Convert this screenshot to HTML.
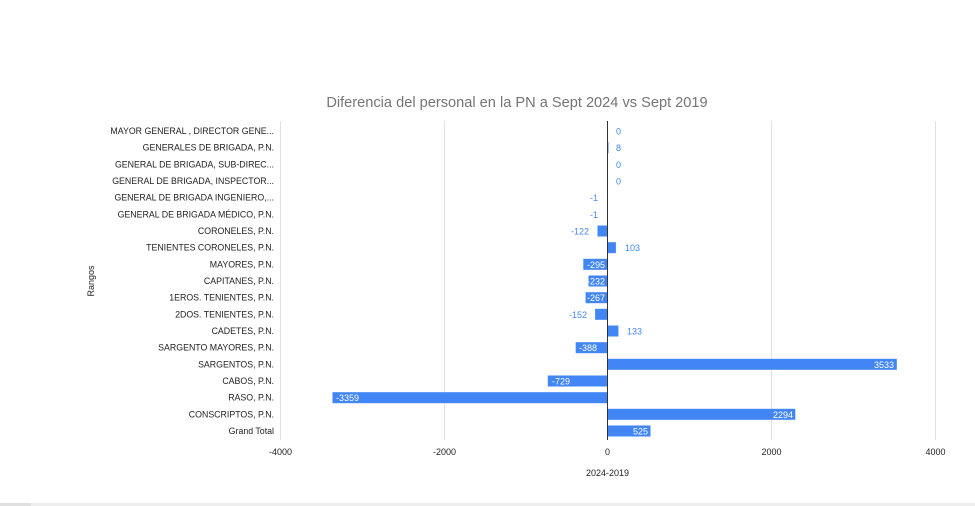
<!DOCTYPE html>
<html><head><meta charset="utf-8"><style>
html,body{margin:0;padding:0;background:#fff;}
svg{display:block;font-family:"Liberation Sans",Arial,sans-serif;}
</style></head><body>
<svg width="975" height="506" viewBox="0 0 975 506" xmlns="http://www.w3.org/2000/svg">
<rect width="975" height="506" fill="#fff"/>
<text x="517" y="107" font-size="14.6" fill="#757575" text-anchor="middle">Diferencia del personal en la PN a Sept 2024 vs Sept 2019</text>
<g stroke="#e0e0e0" stroke-width="1">
<line x1="280.5" y1="121" x2="280.5" y2="440"/>
<line x1="444.5" y1="121" x2="444.5" y2="440"/>
<line x1="771.5" y1="121" x2="771.5" y2="440"/>
<line x1="935.5" y1="121" x2="935.5" y2="440"/>
</g>
<g font-size="8.8" fill="#222" text-anchor="end">
<text x="274" y="134">MAYOR GENERAL , DIRECTOR GENE...</text>
<text x="274" y="150.7">GENERALES DE BRIGADA, P.N.</text>
<text x="274" y="167.3">GENERAL DE BRIGADA, SUB-DIREC...</text>
<text x="274" y="184">GENERAL DE BRIGADA, INSPECTOR...</text>
<text x="274" y="200.7">GENERAL DE BRIGADA INGENIERO,...</text>
<text x="274" y="217.3">GENERAL DE BRIGADA MÉDICO, P.N.</text>
<text x="274" y="234">CORONELES, P.N.</text>
<text x="274" y="250.7">TENIENTES CORONELES, P.N.</text>
<text x="274" y="267.3">MAYORES, P.N.</text>
<text x="274" y="284">CAPITANES, P.N.</text>
<text x="274" y="300.7">1EROS. TENIENTES, P.N.</text>
<text x="274" y="317.3">2DOS. TENIENTES, P.N.</text>
<text x="274" y="334">CADETES, P.N.</text>
<text x="274" y="350.7">SARGENTO MAYORES, P.N.</text>
<text x="274" y="367.3">SARGENTOS, P.N.</text>
<text x="274" y="384">CABOS, P.N.</text>
<text x="274" y="400.7">RASO, P.N.</text>
<text x="274" y="417.3">CONSCRIPTOS, P.N.</text>
<text x="274" y="434">Grand Total</text>
</g>
<g fill="#4285f4">
<rect x="607.5" y="142.2" width="1" height="11"/>
<rect x="597.5" y="225.5" width="10" height="11"/>
<rect x="607.5" y="242.2" width="8.4" height="11"/>
<rect x="583.3" y="258.8" width="24.2" height="11"/>
<rect x="588.5" y="275.5" width="19" height="11"/>
<rect x="585.6" y="292.2" width="21.9" height="11"/>
<rect x="595.1" y="308.8" width="12.4" height="11"/>
<rect x="607.5" y="325.5" width="10.9" height="11"/>
<rect x="575.7" y="342.2" width="31.8" height="11"/>
<rect x="607.5" y="358.8" width="289.3" height="11"/>
<rect x="547.8" y="375.5" width="59.7" height="11"/>
<rect x="332.5" y="392.2" width="275" height="11"/>
<rect x="607.5" y="408.8" width="187.8" height="11"/>
<rect x="607.5" y="425.5" width="43" height="11"/>
</g>
<line x1="607.5" y1="121" x2="607.5" y2="440" stroke="#333" stroke-width="1"/>
<g font-size="9" fill="#4285f4">
<text x="616" y="134.5">0</text>
<text x="616" y="151">8</text>
<text x="616" y="167.8">0</text>
<text x="616" y="184.5">0</text>
<text x="598" y="201" text-anchor="end">-1</text>
<text x="598" y="217.8" text-anchor="end">-1</text>
<text x="589" y="234.5" text-anchor="end">-122</text>
<text x="625" y="251">103</text>
<text x="587" y="317.8" text-anchor="end">-152</text>
<text x="627" y="334.5">133</text>
</g>
<g font-size="9" fill="#fff" text-anchor="end">
<text x="605" y="267.8">-295</text>
<text x="605" y="284.5">-232</text>
<text x="605" y="301">-267</text>
<text x="597" y="351">-388</text>
<text x="894" y="367.8">3533</text>
<text x="570" y="384.5">-729</text>
<text x="336" y="401" text-anchor="start">-3359</text>
<text x="793" y="417.8">2294</text>
<text x="648" y="434.5">525</text>
</g>
<g font-size="9" fill="#222" text-anchor="middle">
<text x="280.5" y="455">-4000</text>
<text x="444.5" y="455">-2000</text>
<text x="607.5" y="455">0</text>
<text x="771.5" y="455">2000</text>
<text x="935.5" y="455">4000</text>
<text x="607.5" y="476">2024-2019</text>
</g>
<text x="0" y="0" font-size="9" fill="#222" text-anchor="middle" transform="translate(94,281) rotate(-90)">Rangos</text>
<rect x="0" y="503" width="975" height="3" fill="#eeeeee"/>
<rect x="0" y="503" width="31" height="3" fill="#e0e0e0"/>
</svg>
</body></html>
